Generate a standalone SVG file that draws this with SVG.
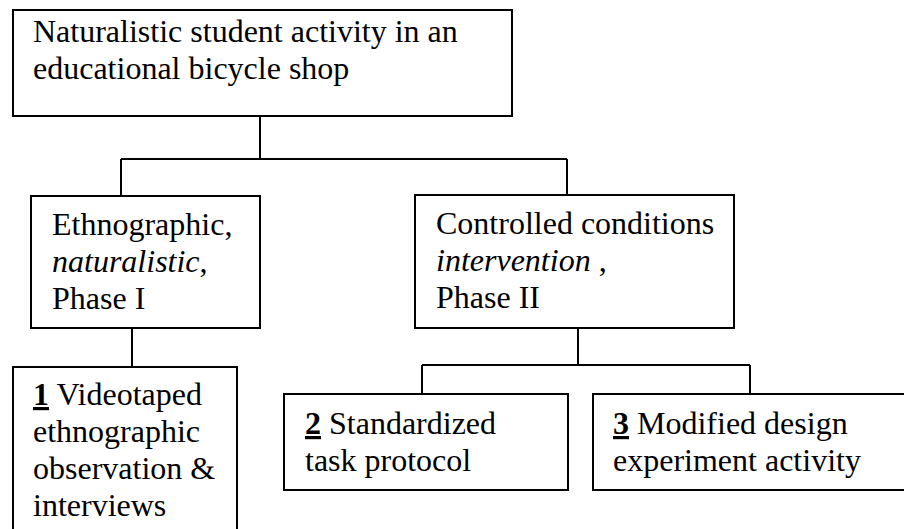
<svg xmlns="http://www.w3.org/2000/svg" width="904" height="529" viewBox="0 0 904 529">
<style>
.box{fill:#fff;stroke:#000;stroke-width:2}
.t{font-family:"Liberation Serif","Times New Roman",serif;font-size:32px;fill:#000}
.i{font-style:italic}
.b{font-weight:bold;text-decoration:underline}
#connectors path{fill:none;stroke:#000;stroke-width:2}
</style>
<rect width="904" height="529" fill="#fff"/>
<g id="connectors">
<path d="M260 116V159M121 159H567M121 159V196M567 159V195"/>
<path d="M132 328V367"/>
<path d="M578 328V365M422 365H750M422 365V394M750 365V394"/>
</g>
<g id="root">
<rect class="box" x="13" y="10" width="499" height="106"/>
<text class="t" x="33" y="42">Naturalistic student activity in an</text>
<text class="t" x="33" y="79">educational bicycle shop</text>
</g>
<g id="phase1">
<rect class="box" x="31" y="196" width="229" height="132"/>
<text class="t" x="52" y="235">Ethnographic,</text>
<text class="t" x="52" y="272"><tspan class="i">naturalistic</tspan>,</text>
<text class="t" x="52" y="309">Phase I</text>
</g>
<g id="phase2">
<rect class="box" x="415" y="195" width="319" height="133"/>
<text class="t" x="436" y="234">Controlled conditions</text>
<text class="t" x="436" y="271"><tspan class="i">intervention</tspan> ,</text>
<text class="t" x="436" y="308">Phase II</text>
</g>
<g id="study1">
<rect class="box" x="13" y="367" width="224" height="180"/>
<text class="t" x="33" y="405"><tspan class="b">1</tspan> Videotaped</text>
<text class="t" x="33" y="442">ethnographic</text>
<text class="t" x="33" y="479">observation &amp;</text>
<text class="t" x="33" y="516">interviews</text>
</g>
<g id="study2">
<rect class="box" x="284" y="394" width="284" height="96"/>
<text class="t" x="305" y="434"><tspan class="b">2</tspan> Standardized</text>
<text class="t" x="305" y="471">task protocol</text>
</g>
<g id="study3">
<rect class="box" x="593" y="394" width="330" height="96"/>
<text class="t" x="613" y="434"><tspan class="b">3</tspan> Modified design</text>
<text class="t" x="613" y="471">experiment activity</text>
</g>
</svg>
